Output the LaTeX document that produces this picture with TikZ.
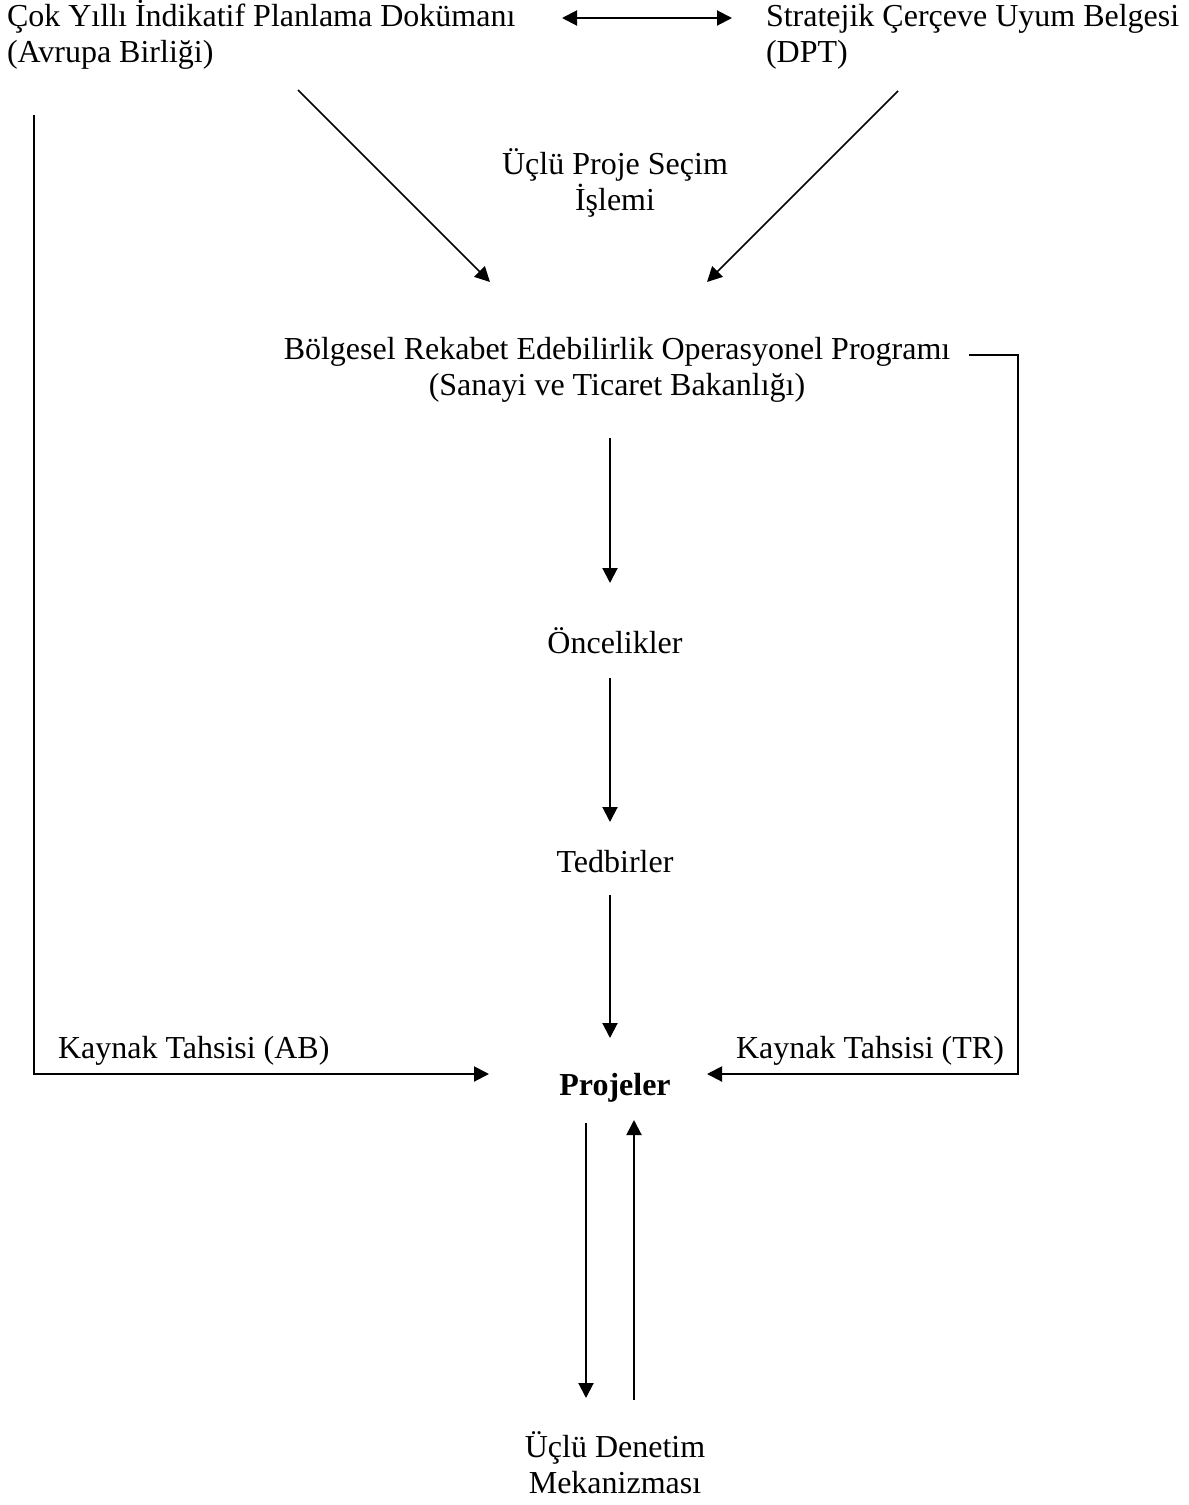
\documentclass[tikz,border=0pt]{standalone}
\usepackage{fontspec}
\setmainfont{Liberation Serif}
\usetikzlibrary{arrows.meta}
\begin{document}
\begin{tikzpicture}[x=0.5pt,y=-0.5pt,
  every node/.style={font=\fontsize{16}{18}\selectfont, inner sep=0pt, outer sep=0pt},
  lbl/.style={anchor=base, align=center},
  lblw/.style={anchor=base west, align=left},
  conn/.style={line width=1pt, -{Triangle[length=7.5pt,width=7.5pt]}},
  thinconn/.style={line width=0.75pt, -{Triangle[length=7.5pt,width=7.5pt]}},
  plain/.style={line width=1pt}]
\useasboundingbox (0,0) rectangle (1189,1505);

% texts (base anchor = baseline of the last line)
\node[lblw] (tl) at (7,62) {Çok Yıllı İndikatif Planlama Dokümanı\\(Avrupa Birliği)};
\node[lblw] (tr) at (766,62) {Stratejik Çerçeve Uyum Belgesi\\(DPT)};
\node[lbl] (usec) at (615,210) {Üçlü Proje Seçim\\İşlemi};
\node[lbl] (brop) at (617,395) {Bölgesel Rekabet Edebilirlik Operasyonel Programı\\(Sanayi ve Ticaret Bakanlığı)};
\node[lbl] (once) at (615,653) {Öncelikler};
\node[lbl] (tedb) at (615,872) {Tedbirler};
\node[lblw] (kab) at (58,1058) {Kaynak Tahsisi (AB)};
\node[lblw] (ktr) at (736,1058) {Kaynak Tahsisi (TR)};
\node[lbl, font=\fontsize{16}{18}\selectfont\bfseries] (proj) at (615,1095) {Projeler};
\node[lbl] (udm) at (615,1493) {Üçlü Denetim\\Mekanizması};

% connector end points
\coordinate (dA) at (562,18);
\coordinate (dB) at (732,18);
\coordinate (lS) at (298,90);
\coordinate (lE) at (490,282);
\coordinate (rS) at (898,91);
\coordinate (rE) at (707,282);
\coordinate (trS) at (969,355);
\coordinate (trC1) at (1018,355);
\coordinate (trC2) at (1018,1074);
\coordinate (trE) at (707,1074);
\coordinate (abS) at (34,115);
\coordinate (abC) at (34,1074);
\coordinate (abE) at (489,1074);
\coordinate (v1S) at (610,438);
\coordinate (v1E) at (610,583);
\coordinate (v2S) at (610,678);
\coordinate (v2E) at (610,822);
\coordinate (v3S) at (610,895);
\coordinate (v3E) at (610,1038);
\coordinate (dnS) at (586,1123);
\coordinate (dnE) at (586,1398);
\coordinate (upS) at (634,1400);
\coordinate (upE) at (634,1120);

% connectors
\draw[line width=1pt, {Triangle[length=7.5pt,width=7.5pt]}-{Triangle[length=7.5pt,width=7.5pt]}] (dA) -- (dB);
\draw[thinconn] (lS) -- (lE);
\draw[thinconn] (rS) -- (rE);
\draw[conn] (trS) -- (trC1) -- (trC2) -- (trE);
\draw[conn] (abS) -- (abC) -- (abE);
\draw[conn] (v1S) -- (v1E);
\draw[conn] (v2S) -- (v2E);
\draw[conn] (v3S) -- (v3E);
\draw[conn] (dnS) -- (dnE);
\draw[conn] (upS) -- (upE);
\end{tikzpicture}
\end{document}
